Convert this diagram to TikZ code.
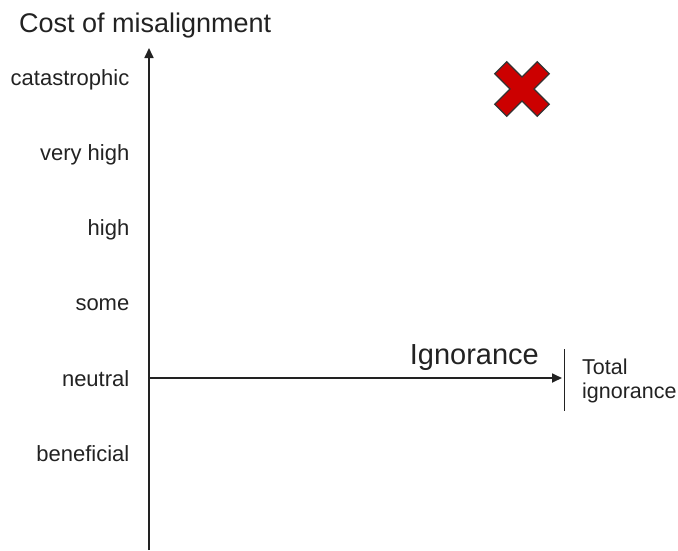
\documentclass[tikz,border=0pt]{standalone}
\usepackage{fontspec}
\setmainfont{Liberation Sans}
\usetikzlibrary{arrows.meta}
\definecolor{ink}{HTML}{222222}
\definecolor{crossred}{HTML}{CC0000}
\tikzset{
  axis/.style={draw=ink, line width=1.7pt, -{Triangle[length=10pt,width=9pt]}},
  lvl/.style={anchor=base east, text=ink, font=\fontsize{22}{26}\selectfont, inner sep=0pt},
}
\begin{document}
\begin{tikzpicture}[x=1pt,y=-1pt]
\useasboundingbox (0,0) rectangle (678,550);
% axes
\coordinate (ybot) at (149,550);
\coordinate (ytop) at (149,48);
\coordinate (orig) at (149,378);
\coordinate (xend) at (562,378);
\draw[axis] (ybot) -- (ytop);
\draw[axis] (orig) -- (xend);
\coordinate (tt) at (564.5,349);
\coordinate (tb) at (564.5,411);
\draw[ink, line width=1.7pt] (tt) -- (tb);
% title
\node[anchor=base west, text=ink, font=\fontsize{27}{30}\selectfont, inner sep=0pt] (title) at (19,32.5) {Cost of misalignment};
% levels
\node[lvl] (l1) at (129.5,85.5) {catastrophic};
\node[lvl] (l2) at (129.5,160.5) {very high};
\node[lvl] (l3) at (129.5,235.5) {high};
\node[lvl] (l4) at (129.5,310.5) {some};
\node[lvl] (l5) at (129.5,386) {neutral};
\node[lvl] (l6) at (129.5,461.5) {beneficial};
% ignorance
\node[anchor=base east, text=ink, font=\fontsize{29}{32}\selectfont, inner sep=0pt] (ign) at (539,364) {Ignorance};
\node[anchor=base west, text=ink, font=\fontsize{21.5}{24}\selectfont, inner sep=0pt] (tot1) at (582,374) {Total};
\node[anchor=base west, text=ink, font=\fontsize{21.5}{24}\selectfont, inner sep=0pt] (tot2) at (582,398) {ignorance};
% red cross
\begin{scope}[shift={(522,89)}, rotate=45]
\filldraw[fill=crossred, draw=black!80, line width=1.2pt]
  (8.5,30) -- (8.5,8.5) -- (30,8.5) -- (30,-8.5) -- (8.5,-8.5) -- (8.5,-30)
  -- (-8.5,-30) -- (-8.5,-8.5) -- (-30,-8.5) -- (-30,8.5) -- (-8.5,8.5) -- (-8.5,30) -- cycle;
\end{scope}
\end{tikzpicture}
\end{document}
